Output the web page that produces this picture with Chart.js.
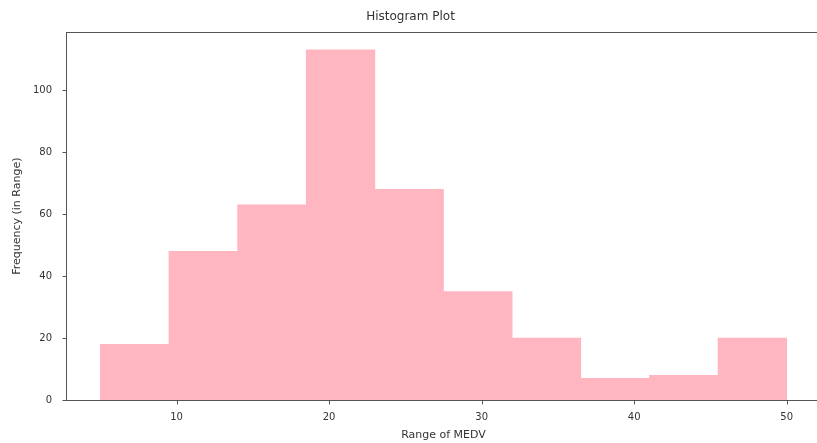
<!DOCTYPE html>
<html>
<head>
<meta charset="utf-8">
<script src="https://cdn.jsdelivr.net/npm/chart.js@4"></script>
<style>
  html, body { margin: 0; padding: 0; background: #fff; overflow: hidden; }
  canvas { display: block; }
</style>
</head>
<body>
<canvas id="hist" width="830" height="443"></canvas>
<script>
// histogram of MEDV, 10 bins from 5 to 50
const binEdges = [5, 9.5, 14, 18.5, 23, 27.5, 32, 36.5, 41, 45.5, 50];
const counts = [18, 48, 63, 113, 68, 35, 20, 7, 8, 20];
const xTicks = [10, 20, 30, 40, 50];
const yTicks = [0, 20, 40, 60, 80, 100];

const barData = counts.map((c, i) => ({
    x: (binEdges[i] + binEdges[i + 1]) / 2,
    y: c
}));

// matplotlib style 5% margins
const xSpan = binEdges[binEdges.length - 1] - binEdges[0];
const xMin = binEdges[0] - xSpan * 0.05;
const xMax = binEdges[binEdges.length - 1] + xSpan * 0.05;
const yMax = Math.max(...counts) * 1.05;

const textColor = '#333';
const lineColor = '#555';

// spines and outward tick marks, like matplotlib axes
const frame = {
    id: 'frame',
    afterDraw(chart) {
        const { ctx, chartArea: a, scales } = chart;
        const L = Math.round(a.left) + 0.5, T = Math.round(a.top) + 0.5;
        const R = Math.round(a.right) + 0.5, B = Math.round(a.bottom) + 0.5;
        ctx.save();
        ctx.strokeStyle = lineColor;
        ctx.lineWidth = 1;
        ctx.strokeRect(L, T, R - L, B - T);
        ctx.beginPath();
        xTicks.forEach(v => {
            const px = Math.round(scales.x.getPixelForValue(v)) + 0.5;
            ctx.moveTo(px, B);
            ctx.lineTo(px, B + 4);
        });
        yTicks.forEach(v => {
            const py = Math.round(scales.y.getPixelForValue(v)) + 0.5;
            ctx.moveTo(L, py);
            ctx.lineTo(L - 4, py);
        });
        ctx.stroke();
        ctx.restore();
    }
};

new Chart(document.getElementById('hist'), {
    type: 'bar',
    data: {
        datasets: [{
            data: barData,
            backgroundColor: '#ffb6c1',
            borderWidth: 0,
            barPercentage: 1,
            categoryPercentage: 1
        }]
    },
    options: {
        responsive: false,
        animation: false,
        devicePixelRatio: 1,
        layout: { padding: { left: 0, right: 9, top: 0, bottom: 0 } },
        plugins: {
            legend: { display: false },
            tooltip: { enabled: false },
            title: {
                display: true,
                text: 'Histogram Plot',
                color: textColor,
                font: { family: 'DejaVu Sans', size: 12, weight: 'normal' },
                padding: { top: 10, bottom: 8 }
            }
        },
        scales: {
            x: {
                type: 'linear',
                min: xMin,
                max: xMax,
                offset: false,
                afterBuildTicks: (scale) => {
                    scale.ticks = xTicks.map(v => ({ value: v }));
                },
                afterFit: (scale) => { scale.height = 43; },
                grid: { display: false, tickLength: 4 },
                border: { display: false },
                ticks: {
                    color: textColor,
                    padding: 7,
                    maxRotation: 0,
                    font: { family: 'DejaVu Sans', size: 10 }
                },
                title: {
                    display: true,
                    text: 'Range of MEDV',
                    color: textColor,
                    font: { family: 'DejaVu Sans', size: 11 },
                    padding: { top: 0, bottom: 1 }
                }
            },
            y: {
                min: 0,
                max: yMax,
                afterBuildTicks: (scale) => {
                    scale.ticks = yTicks.map(v => ({ value: v }));
                },
                afterFit: (scale) => { scale.width = 66; },
                grid: { display: false, tickLength: 4 },
                border: { display: false },
                ticks: {
                    color: textColor,
                    padding: 10,
                    font: { family: 'DejaVu Sans', size: 10 }
                },
                title: {
                    display: true,
                    text: 'Frequency (in Range)',
                    color: textColor,
                    font: { family: 'DejaVu Sans', size: 11 },
                    padding: { top: 11, bottom: 0 }
                }
            }
        }
    },
    plugins: [frame]
});
</script>
</body>
</html>
